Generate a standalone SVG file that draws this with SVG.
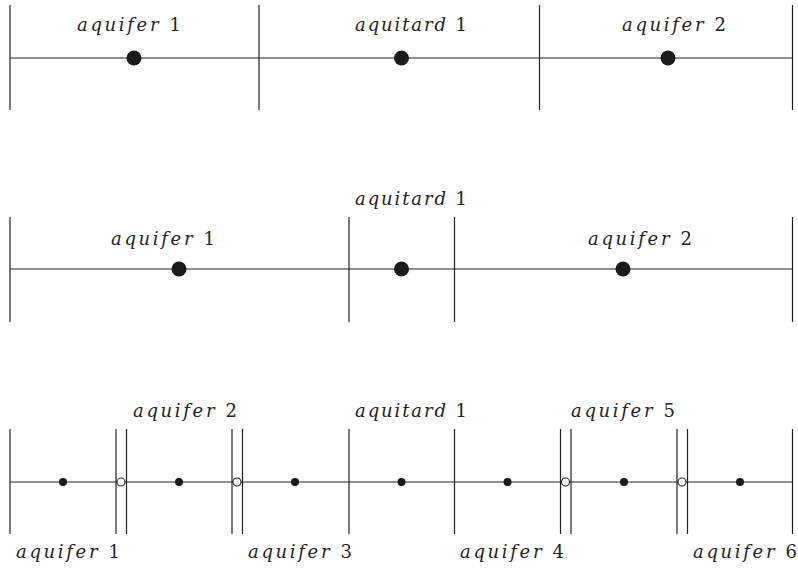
<svg xmlns="http://www.w3.org/2000/svg" width="798" height="576" viewBox="0 0 798 576">
<style>
.ln{stroke:#222;stroke-width:1.2;fill:none}
.big{fill:#1a1a1a}
.sm{fill:#1a1a1a}
.op{fill:#fff;stroke:#222;stroke-width:1.1}
text{font-family:"DejaVu Serif","Liberation Serif",serif;font-size:18px;fill:#222}
.it{font-style:italic}
</style>
<g id="connectors">
  <line class="ln" x1="10" y1="58" x2="792.5" y2="58"/>
  <line class="ln" x1="10" y1="5" x2="10" y2="110"/>
  <line class="ln" x1="259" y1="5" x2="259" y2="110"/>
  <line class="ln" x1="539.5" y1="5" x2="539.5" y2="110"/>
  <line class="ln" x1="792.5" y1="5" x2="792.5" y2="110"/>
  <line class="ln" x1="10" y1="269" x2="792.5" y2="269"/>
  <line class="ln" x1="10" y1="217" x2="10" y2="322"/>
  <line class="ln" x1="349" y1="217" x2="349" y2="322"/>
  <line class="ln" x1="454.5" y1="217" x2="454.5" y2="322"/>
  <line class="ln" x1="792.5" y1="217" x2="792.5" y2="322"/>
  <line class="ln" x1="10" y1="482" x2="792.5" y2="482"/>
  <line class="ln" x1="10" y1="429" x2="10" y2="534"/>
  <line class="ln" x1="116" y1="429" x2="116" y2="534"/>
  <line class="ln" x1="126.5" y1="429" x2="126.5" y2="534"/>
  <line class="ln" x1="232" y1="429" x2="232" y2="534"/>
  <line class="ln" x1="242.5" y1="429" x2="242.5" y2="534"/>
  <line class="ln" x1="349" y1="429" x2="349" y2="534"/>
  <line class="ln" x1="454.5" y1="429" x2="454.5" y2="534"/>
  <line class="ln" x1="560.5" y1="429" x2="560.5" y2="534"/>
  <line class="ln" x1="571" y1="429" x2="571" y2="534"/>
  <line class="ln" x1="677" y1="429" x2="677" y2="534"/>
  <line class="ln" x1="687.5" y1="429" x2="687.5" y2="534"/>
  <line class="ln" x1="792.5" y1="429" x2="792.5" y2="534"/>
</g>
<g id="row1">
  <g id="r1-aquifer1"><circle class="big" cx="134" cy="58" r="7.5"/><text x="77" y="31" textLength="104" lengthAdjust="spacing"><tspan class="it">aquifer</tspan> 1</text></g>
  <g id="r1-aquitard1"><circle class="big" cx="401.5" cy="58" r="7.5"/><text x="355" y="31" textLength="112" lengthAdjust="spacing"><tspan class="it">aquitard</tspan> 1</text></g>
  <g id="r1-aquifer2"><circle class="big" cx="668" cy="58" r="7.5"/><text x="622" y="31" textLength="104" lengthAdjust="spacing"><tspan class="it">aquifer</tspan> 2</text></g>
</g>
<g id="row2">
  <g id="r2-aquifer1"><circle class="big" cx="179" cy="269" r="7.5"/><text x="111" y="245" textLength="104" lengthAdjust="spacing"><tspan class="it">aquifer</tspan> 1</text></g>
  <g id="r2-aquitard1"><circle class="big" cx="401.5" cy="269" r="7.5"/><text x="355" y="205" textLength="112" lengthAdjust="spacing"><tspan class="it">aquitard</tspan> 1</text></g>
  <g id="r2-aquifer2"><circle class="big" cx="623" cy="269" r="7.5"/><text x="588" y="245" textLength="104" lengthAdjust="spacing"><tspan class="it">aquifer</tspan> 2</text></g>
</g>
<g id="row3">
  <g id="r3-aquifer1"><circle class="sm" cx="63" cy="482" r="4"/><text x="16" y="558" textLength="104" lengthAdjust="spacing"><tspan class="it">aquifer</tspan> 1</text></g>
  <g id="r3-if12"><circle class="op" cx="121" cy="482" r="4"/></g>
  <g id="r3-aquifer2"><circle class="sm" cx="179" cy="482" r="4"/><text x="133" y="417" textLength="104" lengthAdjust="spacing"><tspan class="it">aquifer</tspan> 2</text></g>
  <g id="r3-if23"><circle class="op" cx="237" cy="482" r="4"/></g>
  <g id="r3-aquifer3"><circle class="sm" cx="295" cy="482" r="4"/><text x="248" y="558" textLength="104" lengthAdjust="spacing"><tspan class="it">aquifer</tspan> 3</text></g>
  <g id="r3-aquitard1"><circle class="sm" cx="401.5" cy="482" r="4"/><text x="355" y="417" textLength="112" lengthAdjust="spacing"><tspan class="it">aquitard</tspan> 1</text></g>
  <g id="r3-aquifer4"><circle class="sm" cx="507.5" cy="482" r="4"/><text x="460" y="558" textLength="104" lengthAdjust="spacing"><tspan class="it">aquifer</tspan> 4</text></g>
  <g id="r3-if45"><circle class="op" cx="565.5" cy="482" r="4"/></g>
  <g id="r3-aquifer5"><circle class="sm" cx="624" cy="482" r="4"/><text x="571" y="417" textLength="104" lengthAdjust="spacing"><tspan class="it">aquifer</tspan> 5</text></g>
  <g id="r3-if56"><circle class="op" cx="682" cy="482" r="4"/></g>
  <g id="r3-aquifer6"><circle class="sm" cx="740" cy="482" r="4"/><text x="693" y="558" textLength="104" lengthAdjust="spacing"><tspan class="it">aquifer</tspan> 6</text></g>
</g>
</svg>
